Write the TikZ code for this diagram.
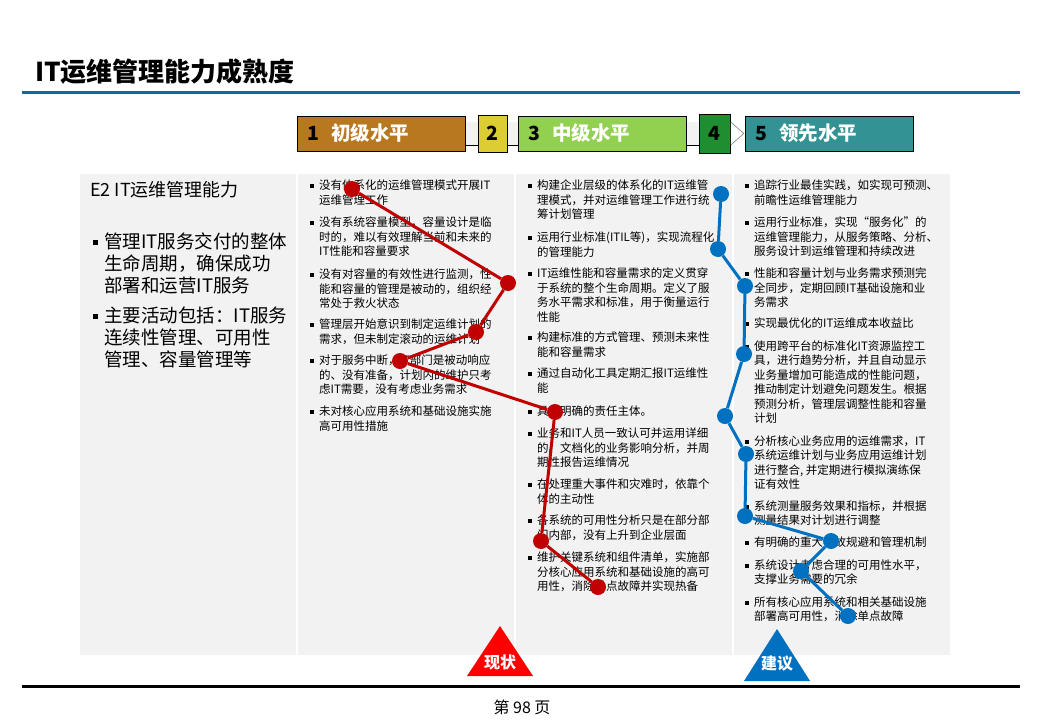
\documentclass[tikz,border=0pt]{standalone}
\usepackage{fontspec}
\setmainfont{Noto Sans CJK SC}
\usetikzlibrary{positioning}
\definecolor{titleblue}{HTML}{0D6A9E}
\definecolor{lvbrown}{HTML}{B87820}
\definecolor{lvyellow}{HTML}{DCCD32}
\definecolor{lvlime}{HTML}{92D050}
\definecolor{lvgreen}{HTML}{1F8E30}
\definecolor{lvteal}{HTML}{339294}
\definecolor{panelgray}{HTML}{F2F2F2}
\definecolor{nowred}{HTML}{C00000}
\definecolor{trired}{HTML}{FF0000}
\definecolor{tipblue}{HTML}{0070C0}
\tikzset{
  lvlbox/.style={draw=black, line width=0.8pt, anchor=west, align=left,
                 text width=#1, inner xsep=10pt, minimum height=35pt,
                 font=\fontsize{19.5}{19.5}\selectfont\bfseries},
  numbox/.style={draw=black, line width=0.8pt, anchor=west, inner sep=0pt,
                 minimum width=29pt, minimum height=37pt,
                 font=\fontsize{19.5}{19.5}\selectfont\bfseries},
  itm/.style={anchor=north west, inner sep=0pt, align=left,
              font=\fontsize{11.5}{14.5}\selectfont},
  bigitm/.style={anchor=north west, inner sep=0pt, align=left,
                 font=\fontsize{18.5}{22}\selectfont},
  rdot/.style={circle, fill=nowred, minimum size=16pt, inner sep=0pt},
  bdot/.style={circle, fill=tipblue, minimum size=16pt, inner sep=0pt},
  rpath/.style={draw=nowred, line width=3pt},
  bpath/.style={draw=tipblue, line width=3pt},
  trilabel/.style={text=white, inner sep=0pt, font=\fontsize{16}{16}\selectfont\bfseries},
}

\begin{document}
\begin{tikzpicture}[x=1pt, y=-1pt]
  \useasboundingbox (0,0) rectangle (1040,720);
  \fill[white] (0,0) rectangle (1040,720);

  % title
  \node[anchor=west, inner sep=0pt, font=\fontsize{26}{26}\selectfont\bfseries] (ttl) at (35,72) {IT运维管理能力成熟度};
  \draw[titleblue, line width=3pt] (22,92) -- (1020,92);

  % maturity levels
  \node[lvlbox=148pt, fill=lvbrown] (lv1) at (297,133.5) {1\hspace{12pt}\textcolor{white}{初级水平}};
  \node[numbox, fill=lvyellow]      (lv2) at (478,133.5) {2};
  \node[lvlbox=148pt, fill=lvlime]  (lv3) at (518,133.5) {3\hspace{12pt}\textcolor{white}{中级水平}};
  \node[numbox, fill=lvgreen, minimum width=31pt, minimum height=39pt] (lv4) at (699,133.5) {4};
  \node[lvlbox=148pt, fill=lvteal]  (lv5) at (745,133.5) {5\hspace{12pt}\textcolor{white}{领先水平}};
  \draw[black, line width=0.6pt] ([yshift=11.5pt]lv1.east) -- ([yshift=11.5pt]lv2.west)
       ([yshift=-11.5pt]lv1.east) -- ([yshift=-11.5pt]lv2.west)
       ([yshift=11.5pt]lv2.east) -- ([yshift=11.5pt]lv3.west)
       ([yshift=-11.5pt]lv2.east) -- ([yshift=-11.5pt]lv3.west)
       ([yshift=11.5pt]lv3.east) -- ([yshift=11.5pt]lv4.west)
       ([yshift=-11.5pt]lv3.east) -- ([yshift=-11.5pt]lv4.west);
  \fill[panelgray] ([yshift=11.2pt]lv1.east) rectangle ([yshift=-11.2pt]lv2.west);
  \fill[panelgray] ([yshift=11.2pt]lv2.east) rectangle ([yshift=-11.2pt]lv3.west);
  \fill[panelgray] ([yshift=11.2pt]lv3.east) rectangle ([yshift=-11.2pt]lv4.west);
  \draw[gray, line width=0.6pt, fill=white] ([yshift=11.5pt]lv4.east) -- ++(13,11.5) -- ++(-13,11.5);

  % panel
  \foreach \xa/\xb in {80/296, 298/514, 516/732, 734/950}
    \fill[panelgray] (\xa,174) rectangle (\xb,655);

  % left column
  \node[anchor=west, inner sep=0pt, font=\fontsize{18}{18}\selectfont] (e2) at (90,190) {E2 IT运维管理能力};
  \node[bigitm] (lb1) at (104,233) {管理IT服务交付的整体\\生命周期，确保成功\\部署和运营IT服务};
  \node[bigitm] (lb2) at (104,307) {主要活动包括：IT服务\\连续性管理、可用性\\管理、容量管理等};
  \foreach \n in {lb1,lb2}
    \fill ([shift={(-11,7)}]\n.north west) rectangle ++(5,5);

  % current state
  \node[itm] (c1a) at (319,180) {没有体系化的运维管理模式开展IT\\运维管理工作};
  \node[itm] (c1b) at (319,217) {没有系统容量模型，容量设计是临\\时的，难以有效理解当前和未来的\\IT性能和容量要求};
  \node[itm] (c1c) at (319,269) {没有对容量的有效性进行监测，性\\能和容量的管理是被动的，组织经\\常处于救火状态};
  \node[itm] (c1d) at (319,319) {管理层开始意识到制定运维计划的\\需求，但未制定滚动的运维计划};
  \node[itm] (c1e) at (319,355) {对于服务中断，IT部门是被动响应\\的、没有准备，计划内的维护只考\\虑IT需要，没有考虑业务需求};
  \node[itm] (c1f) at (319,406) {未对核心应用系统和基础设施实施\\高可用性措施};

  % middle level
  \node[itm] (c2a) at (537,180) {构建企业层级的体系化的IT运维管\\理模式，并对运维管理工作进行统\\筹计划管理};
  \node[itm] (c2b) at (537,232) {运用行业标准(ITIL等)，实现流程化\\的管理能力};
  \node[itm] (c2c) at (537,268) {IT运维性能和容量需求的定义贯穿\\于系统的整个生命周期。定义了服\\务水平需求和标准，用于衡量运行\\性能};
  \node[itm] (c2d) at (537,332) {构建标准的方式管理、预测未来性\\能和容量需求};
  \node[itm] (c2e) at (537,368) {通过自动化工具定期汇报IT运维性\\能};
  \node[itm] (c2f) at (537,406) {具有明确的责任主体。};
  \node[itm] (c2g) at (537,428) {业务和IT人员一致认可并运用详细\\的、文档化的业务影响分析，并周\\期性报告运维情况};
  \node[itm] (c2h) at (537,479) {在处理重大事件和灾难时，依靠个\\体的主动性};
  \node[itm] (c2i) at (537,515) {各系统的可用性分析只是在部分部\\门内部，没有上升到企业层面};
  \node[itm] (c2j) at (537,552) {维护关键系统和组件清单，实施部\\分核心应用系统和基础设施的高可\\用性，消除单点故障并实现热备};

  % leading level
  \node[itm] (c3a) at (754,180) {追踪行业最佳实践，如实现可预测、\\前瞻性运维管理能力};
  \node[itm] (c3b) at (754,217) {运用行业标准，实现“服务化”的\\运维管理能力，从服务策略、分析、\\服务设计到运维管理和持续改进};
  \node[itm] (c3c) at (754,268) {性能和容量计划与业务需求预测完\\全同步，定期回顾IT基础设施和业\\务需求};
  \node[itm] (c3d) at (754,318) {实现最优化的IT运维成本收益比};
  \node[itm] (c3e) at (754,340.5) {使用跨平台的标准化IT资源监控工\\具，进行趋势分析，并且自动显示\\业务量增加可能造成的性能问题，\\推动制定计划避免问题发生。根据\\预测分析，管理层调整性能和容量\\计划};
  \node[itm] (c3f) at (754,435.5) {分析核心业务应用的运维需求，IT\\系统运维计划与业务应用运维计划\\进行整合, 并定期进行模拟演练保\\证有效性};
  \node[itm] (c3g) at (754,500.5) {系统测量服务效果和指标，并根据\\测量结果对计划进行调整};
  \node[itm] (c3h) at (754,537) {有明确的重大事故规避和管理机制};
  \node[itm] (c3i) at (754,559.5) {系统设计考虑合理的可用性水平，\\支撑业务需要的冗余};
  \node[itm] (c3j) at (754,596.5) {所有核心应用系统和相关基础设施\\部署高可用性，消除单点故障};

  \foreach \n in {c1a,c1b,c1c,c1d,c1e,c1f,c2a,c2b,c2c,c2d,c2e,c2f,c2g,c2h,c2i,c2j,
                  c3a,c3b,c3c,c3d,c3e,c3f,c3g,c3h,c3i,c3j}
    \fill ([shift={(-9,4)}]\n.north west) rectangle ++(4,4);

  % current state path
  \node[rdot] (r1) at (352,189) {};
  \node[rdot] (r2) at (508,283) {};
  \node[rdot] (r3) at (476,332) {};
  \node[rdot] (r4) at (400,361) {};
  \node[rdot] (r5) at (555,412) {};
  \node[rdot] (r6) at (541,541) {};
  \node[rdot] (r7) at (598,587) {};
  \draw[rpath] (r1) -- (r2) -- (r3) -- (r4) -- (r5) -- (r6) -- (r7);

  % advice path
  \node[bdot] (b1)  at (721,194) {};
  \node[bdot] (b2)  at (718,249) {};
  \node[bdot] (b3)  at (745,286) {};
  \node[bdot] (b4)  at (744,354) {};
  \node[bdot] (b5)  at (725,416) {};
  \node[bdot] (b6)  at (746,454) {};
  \node[bdot] (b7)  at (745,516) {};
  \node[bdot] (b8)  at (831,541) {};
  \node[bdot] (b9)  at (801,571) {};
  \node[bdot] (b10) at (848,616) {};
  \draw[bpath] (b1) -- (b2) -- (b3) -- (b4) -- (b5) -- (b6) -- (b7) -- (b8) -- (b9) -- (b10);

  % markers
  \fill[trired] (500,626) -- (533,676) -- (467,676) -- cycle;
  \node[trilabel] (now) at (500,662) {现状};
  \fill[tipblue] (777,629) -- (810,681) -- (744,681) -- cycle;
  \node[trilabel] (adv) at (777,664) {建议};

  % footer
  \draw[black, line width=3.5pt] (22,686.5) -- (1020,686.5);
  \node[inner sep=0pt, font=\fontsize{16}{16}\selectfont] (pg) at (522,707) {第 98 页};
\end{tikzpicture}
\end{document}
